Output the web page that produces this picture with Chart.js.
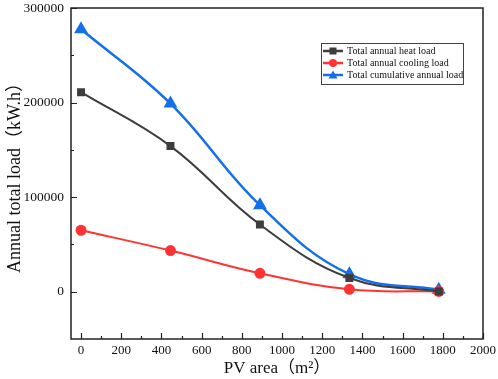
<!DOCTYPE html>
<html lang="en">
<head>
    <meta charset="UTF-8">
    <title>Annual total load vs PV area</title>
    <script src="https://cdn.jsdelivr.net/npm/chart.js@4.4.1/dist/chart.umd.min.js"></script>
    <style>
        html, body { margin: 0; padding: 0; background: #fff; }
        #wrap { width: 498px; height: 379px; position: relative; }
    </style>
</head>
<body>
    <div id="wrap"><canvas id="loadChart"></canvas></div>

    <script>
        // data
        const pvArea = [0, 445, 890, 1335, 1780];
        const heatLoad = [211000, 154000, 71000, 14500, 300];
        const coolingLoad = [65000, 43500, 19500, 2500, 300];
        const cumulativeLoad = [277500, 199000, 91500, 18500, 2000];
        const seriesNames = ['Total annual heat load', 'Total annual cooling load', 'Total cumulative annual load'];
        const yTickValues = [0, 100000, 200000, 300000];
        const xTickValues = [0, 200, 400, 600, 800, 1000, 1200, 1400, 1600, 1800, 2000];

        const SERIF = '"Liberation Serif", "Noto Sans CJK SC", serif';

        const toPoints = (values) => values.map((v, i) => ({ x: pvArea[i], y: v }));

        // ticks drawn inward, majors longer than minors
        const innerTicks = {
            id: 'innerTicks',
            afterDraw(chart) {
                const ctx = chart.ctx;
                const area = chart.chartArea;
                const xs = chart.scales.x;
                const ys = chart.scales.y;
                ctx.save();
                ctx.strokeStyle = '#222';
                ctx.lineWidth = 1.2;
                ctx.beginPath();
                for (let v = 0; v <= 2000; v += 100) {
                    const px = Math.round(xs.getPixelForValue(v)) + 0.5;
                    const len = v % 200 === 0 ? 6 : 3;
                    ctx.moveTo(px, area.bottom);
                    ctx.lineTo(px, area.bottom - len);
                }
                for (let v = 0; v <= 300000; v += 50000) {
                    const py = Math.round(ys.getPixelForValue(v)) + 0.5;
                    const len = v % 100000 === 0 ? 6 : 3;
                    ctx.moveTo(area.left, py);
                    ctx.lineTo(area.left + len, py);
                }
                ctx.stroke();
                // frame
                ctx.lineWidth = 1.5;
                ctx.strokeRect(area.left, area.top, area.right - area.left, area.bottom - area.top);
                ctx.restore();
            }
        };

        // legend box inside the plot
        const boxLegend = {
            id: 'boxLegend',
            afterDraw(chart) {
                const ctx = chart.ctx;
                const left = 321, top = 43, w = 142, h = 41;
                ctx.save();
                ctx.fillStyle = '#fff';
                ctx.fillRect(left, top, w, h);
                ctx.strokeStyle = '#444';
                ctx.lineWidth = 1;
                ctx.strokeRect(left + 0.5, top + 0.5, w, h);
                ctx.font = '10px ' + SERIF;
                ctx.textBaseline = 'middle';
                chart.data.datasets.forEach((ds, i) => {
                    const cy = top + 8 + i * 12;
                    ctx.strokeStyle = ds.borderColor;
                    ctx.lineWidth = 2.5;
                    ctx.beginPath();
                    ctx.moveTo(left + 2, cy);
                    ctx.lineTo(left + 22, cy);
                    ctx.stroke();
                    ctx.fillStyle = ds.borderColor;
                    const cx = left + 12;
                    ctx.beginPath();
                    if (ds.pointStyle === 'rect') {
                        ctx.rect(cx - 3.5, cy - 3.5, 7, 7);
                    } else if (ds.pointStyle === 'circle') {
                        ctx.arc(cx, cy, 4, 0, Math.PI * 2);
                    } else {
                        ctx.moveTo(cx, cy - 4.5);
                        ctx.lineTo(cx + 4.5, cy + 3.5);
                        ctx.lineTo(cx - 4.5, cy + 3.5);
                        ctx.closePath();
                    }
                    ctx.fill();
                    ctx.fillStyle = '#111';
                    ctx.fillText(ds.label, left + 26, cy);
                });
                ctx.restore();
            }
        };

        const makeSet = (label, values, color, style, radius, width) => ({
            label: label,
            data: toPoints(values),
            borderColor: color,
            backgroundColor: color,
            pointBackgroundColor: color,
            pointBorderColor: color,
            pointStyle: style,
            pointRadius: radius,
            borderWidth: width,
            tension: 0.4,
        });

        new Chart(document.getElementById('loadChart'), {
            type: 'line',
            data: {
                datasets: [
                    makeSet(seriesNames[0], heatLoad, '#3d3d3d', 'rect', 4.2, 2),
                    makeSet(seriesNames[1], coolingLoad, '#ff3333', 'circle', 4.5, 2),
                    makeSet(seriesNames[2], cumulativeLoad, '#1470e8', 'triangle', 5.5, 2.5),
                ],
            },
            options: {
                responsive: true,
                maintainAspectRatio: false,
                animation: false,
                layout: { padding: { top: 5, right: 15, left: 4, bottom: 0 } },
                plugins: {
                    legend: { display: false },
                    tooltip: { enabled: false },
                },
                scales: {
                    x: {
                        type: 'linear',
                        min: -50,
                        max: 2000,
                        afterFit: (scale) => {
                            scale.height = 40;
                            scale.paddingLeft = 0;
                            scale.paddingRight = 0;
                        },
                        afterBuildTicks: (scale) => { scale.ticks = xTickValues.map(v => ({ value: v })); },
                        grid: { display: false, drawTicks: false },
                        border: { display: false },
                        ticks: {
                            padding: 4,
                            color: '#111',
                            font: { family: SERIF, size: 13 },
                            maxRotation: 0,
                            callback: (v) => String(v),
                        },
                        title: {
                            display: true,
                            text: 'PV area（m²）',
                            color: '#111',
                            font: { family: SERIF, size: 17 },
                            padding: { top: 0, bottom: 0 },
                        },
                    },
                    y: {
                        min: -50000,
                        max: 300000,
                        afterFit: (scale) => {
                            scale.width = 67;
                            scale.paddingTop = 0;
                            scale.paddingBottom = 0;
                        },
                        afterBuildTicks: (scale) => { scale.ticks = yTickValues.map(v => ({ value: v })); },
                        grid: { display: false, drawTicks: false },
                        border: { display: false },
                        ticks: {
                            padding: 7,
                            color: '#111',
                            font: { family: SERIF, size: 13.5 },
                            callback: (v) => String(v),
                        },
                        title: {
                            display: true,
                            text: 'Annual total load（kW.h）',
                            color: '#111',
                            font: { family: SERIF, size: 18 },
                            padding: { top: 0, bottom: 0 },
                        },
                    },
                },
            },
            plugins: [innerTicks, boxLegend],
        });
    </script>
</body>
</html>
